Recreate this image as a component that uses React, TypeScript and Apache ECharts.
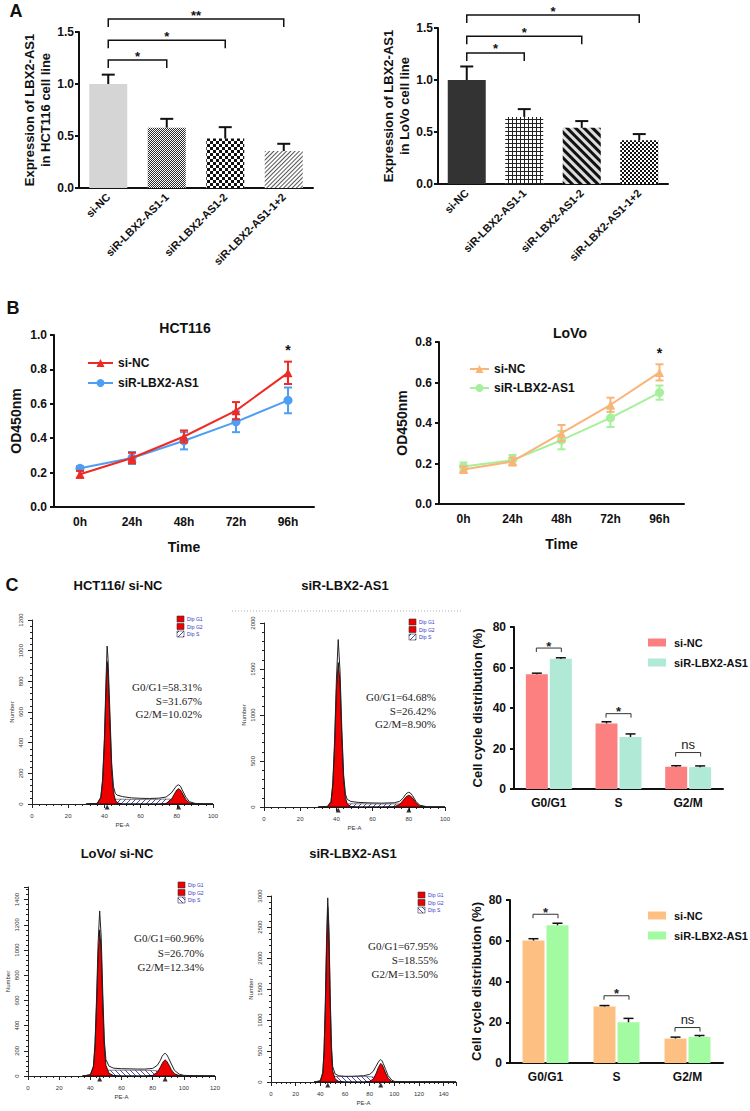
import React, { useEffect, useRef } from 'react';
import * as echarts from 'echarts';

const FF = 'Arial, "Liberation Sans", Helvetica, sans-serif';
const SERIF = '"Liberation Serif", "DejaVu Serif", serif';
const BLK = '#111111';

// ---------------- Panel A ----------------
const aCategories = ['si-NC', 'siR-LBX2-AS1-1', 'siR-LBX2-AS1-2', 'siR-LBX2-AS1-1+2'];
const aHctMean = [1.0, 0.58, 0.475, 0.355];
const aHctErr = [0.09, 0.085, 0.11, 0.07];
const aLovoMean = [1.0, 0.645, 0.54, 0.42];
const aLovoErr = [0.13, 0.075, 0.065, 0.06];
const aSigTo = [1, 2, 3];
const aHctSigY = [1.23, 1.42, 1.625];
const aHctSigLabel = ['*', '*', '**'];
const aLovoSigY = [1.26, 1.42, 1.625];
const aLovoSigLabel = ['*', '*', '*'];

// ---------------- Panel B ----------------
const timeCats = ['0h', '24h', '48h', '72h', '96h'];
const bHctNc = [0.19, 0.285, 0.41, 0.56, 0.78];
const bHctNcErr = [0.02, 0.03, 0.035, 0.05, 0.065];
const bHctSi = [0.225, 0.285, 0.385, 0.495, 0.62];
const bHctSiErr = [0.012, 0.035, 0.05, 0.06, 0.075];
const bLovoNc = [0.17, 0.21, 0.35, 0.49, 0.65];
const bLovoNcErr = [0.015, 0.02, 0.04, 0.035, 0.04];
const bLovoSi = [0.185, 0.217, 0.315, 0.425, 0.55];
const bLovoSiErr = [0.02, 0.025, 0.045, 0.045, 0.035];
const bHctStar = [[4, 0.915]];
const bLovoStar = [[4, 0.745]];

// ---------------- Panel C bars ----------------
const cCats = ['G0/G1', 'S', 'G2/M'];
const cHctNc = [56.7, 32.4, 11.0];
const cHctNcErr = [0.5, 0.8, 0.5];
const cHctSi = [64.3, 25.7, 10.8];
const cHctSiErr = [0.5, 1.5, 0.6];
const cLovoNc = [60.1, 27.7, 12.0];
const cLovoNcErr = [0.9, 0.5, 0.7];
const cLovoSi = [67.6, 20.0, 12.8];
const cLovoSiErr = [1.0, 1.9, 0.7];
const cHctSigY = [69.6, 37.2, 18.0];
const cLovoSigY = [73.0, 33.0, 17.4];
const cSigLabel = ['*', '*', 'ns'];

// ---------------- Panel C flow histograms ----------------
const fPe1 = [30, 36, 38, 39, 40, 41, 41.5, 42, 43, 44, 45, 46, 47, 50, 55, 60, 65, 70, 74, 77, 79, 80, 81, 82, 83, 85, 87, 90, 95, 100];
const fTot1 = [0, 4, 45, 160, 430, 850, 1030, 950, 610, 270, 115, 70, 58, 48, 40, 37, 36, 38, 45, 72, 105, 120, 125, 116, 92, 45, 15, 4, 1, 0];
const fG1a = [0, 3, 38, 145, 395, 790, 930, 870, 550, 230, 80, 28, 8, 0, 0, 0, 0, 0, 0, 0, 0, 0, 0, 0, 0, 0, 0, 0, 0, 0];
const fG2a = [0, 0, 0, 0, 0, 0, 0, 0, 0, 0, 0, 0, 0, 0, 0, 0, 0, 0, 3, 30, 72, 92, 100, 92, 72, 28, 8, 1, 0, 0];
const fSa = [0, 0, 6, 12, 18, 23, 25, 27, 29, 30, 31, 31, 31, 31, 30, 30, 30, 31, 32, 31, 28, 25, 21, 16, 12, 5, 1, 0, 0, 0];
const fMark1 = [41.5, 81];
const fText1 = ['G0/G1=58.31%', 'S=31.67%', 'G2/M=10.02%'];

const fPe2 = [30, 35, 37, 38, 39, 40, 41, 42, 43, 44, 45, 46, 48, 52, 58, 65, 72, 75, 77, 78, 79, 80, 81, 82, 84, 86, 90, 95, 100];
const fTot2 = [0, 5, 60, 260, 720, 1380, 1820, 1480, 840, 350, 140, 82, 60, 50, 45, 42, 46, 62, 100, 132, 152, 160, 150, 125, 60, 20, 3, 1, 0];
const fG1b = [0, 3, 50, 225, 650, 1270, 1570, 1360, 770, 300, 100, 35, 5, 0, 0, 0, 0, 0, 0, 0, 0, 0, 0, 0, 0, 0, 0, 0, 0];
const fG2b = [0, 0, 0, 0, 0, 0, 0, 0, 0, 0, 0, 0, 0, 0, 0, 0, 3, 30, 75, 100, 118, 128, 118, 100, 45, 12, 0, 0, 0];
const fSb = [0, 0, 8, 15, 22, 27, 30, 32, 33, 34, 35, 35, 35, 35, 34, 33, 34, 33, 30, 27, 23, 20, 16, 12, 6, 2, 0, 0, 0];
const fMark2 = [41, 80];
const fText2 = ['G0/G1=64.68%', 'S=26.42%', 'G2/M=8.90%'];

const fPe3 = [35, 40, 42, 43, 44, 45, 46, 47, 48, 49, 50, 52, 55, 60, 65, 70, 75, 80, 83, 85, 86, 87, 88, 89, 90, 92, 94, 97, 100, 110, 120];
const fTot3 = [0, 10, 80, 260, 620, 1060, 1310, 1100, 650, 280, 130, 78, 62, 58, 57, 55, 55, 60, 85, 125, 155, 172, 180, 170, 148, 95, 45, 15, 5, 1, 0];
const fG1c = [0, 8, 70, 230, 560, 970, 1160, 990, 570, 230, 85, 22, 3, 0, 0, 0, 0, 0, 0, 0, 0, 0, 0, 0, 0, 0, 0, 0, 0, 0, 0];
const fG2c = [0, 0, 0, 0, 0, 0, 0, 0, 0, 0, 0, 0, 0, 0, 0, 0, 0, 5, 30, 72, 98, 118, 128, 118, 98, 50, 18, 3, 0, 0, 0];
const fSc = [0, 8, 20, 28, 34, 38, 41, 43, 44, 45, 46, 46, 46, 46, 46, 45, 45, 44, 40, 35, 30, 26, 22, 18, 14, 8, 3, 0, 0, 0, 0];
const fMark3 = [46, 88];
const fText3 = ['G0/G1=60.96%', 'S=26.70%', 'G2/M=12.34%'];

const fPe4 = [35, 40, 42, 43, 44, 45, 46, 47, 48, 49, 50, 52, 55, 60, 65, 70, 75, 80, 83, 85, 87, 88, 89, 90, 91, 93, 95, 98, 100, 110, 150];
const fTot4 = [0, 20, 160, 520, 1250, 2250, 2970, 2480, 1400, 600, 250, 130, 100, 92, 92, 96, 102, 122, 175, 250, 320, 350, 362, 342, 300, 200, 100, 30, 10, 2, 0];
const fG1d = [0, 15, 140, 470, 1150, 2100, 2830, 2350, 1300, 520, 180, 50, 8, 0, 0, 0, 0, 0, 0, 0, 0, 0, 0, 0, 0, 0, 0, 0, 0, 0, 0];
const fG2d = [0, 0, 0, 0, 0, 0, 0, 0, 0, 0, 0, 0, 0, 0, 0, 0, 0, 10, 50, 130, 230, 270, 300, 280, 240, 140, 60, 10, 2, 0, 0];
const fSd = [0, 15, 40, 55, 65, 72, 78, 82, 84, 86, 88, 88, 88, 88, 88, 88, 88, 85, 80, 72, 62, 55, 48, 40, 32, 20, 8, 1, 0, 0, 0];
const fMark4 = [46, 89];
const fText4 = ['G0/G1=67.95%', 'S=18.55%', 'G2/M=13.50%'];

// ---------------- helpers ----------------
const pairs = (xs: number[], ys: number[]) => xs.map((x, i) => [x, ys[i]]);

function makeHatch(dir: number) {
  const c = document.createElement('canvas');
  c.width = 5;
  c.height = 5;
  const g = c.getContext('2d') as CanvasRenderingContext2D;
  g.fillStyle = '#ffffff';
  g.fillRect(0, 0, 5, 5);
  g.strokeStyle = '#4646c8';
  g.lineWidth = 1;
  const seg = (x1: number, y1: number, x2: number, y2: number) => {
    g.beginPath();
    g.moveTo(x1, y1);
    g.lineTo(x2, y2);
    g.stroke();
  };
  if (dir > 0) {
    seg(-1, 6, 6, -1);
  } else {
    seg(-1, -1, 6, 6);
  }
  return { image: c.toDataURL(), repeat: 'repeat', imageWidth: 5, imageHeight: 5 };
}

const txtStyle = (text: string, x: number, y: number, font: string, align = 'center', valign = 'middle', fill = BLK) => ({
  text, x, y, font, fill,
  align, verticalAlign: valign, textAlign: align, textVerticalAlign: valign,
});

const errorBars = (offset: number, capW: number, color: string, lw: number, both: boolean) =>
  (params: any, api: any) => {
    const c = api.value(0);
    const m = api.value(1);
    const e = api.value(2);
    const pm = api.coord([c, m]);
    const ph = api.coord([c, m + e]);
    const pl = api.coord([c, m - e]);
    const x = pm[0] + offset;
    const st = { stroke: color, lineWidth: lw };
    const ch: any[] = [
      { type: 'line', shape: { x1: x, y1: both ? pl[1] : pm[1], x2: x, y2: ph[1] }, style: st },
      { type: 'line', shape: { x1: x - capW / 2, y1: ph[1], x2: x + capW / 2, y2: ph[1] }, style: st },
    ];
    if (both) ch.push({ type: 'line', shape: { x1: x - capW / 2, y1: pl[1], x2: x + capW / 2, y2: pl[1] }, style: st });
    return { type: 'group', children: ch };
  };

const bracketA = (labels: string[]) => (params: any, api: any) => {
  const y = api.value(2);
  const s = api.coord([api.value(0), y]);
  const e = api.coord([api.value(1), y]);
  const drop = 8;
  return {
    type: 'group',
    children: [
      { type: 'polyline', shape: { points: [[s[0], s[1] + drop], [s[0], s[1]], [e[0], e[1]], [e[0], e[1] + drop]] }, style: { stroke: BLK, lineWidth: 1.5, fill: 'none' } },
      { type: 'text', style: txtStyle(labels[params.dataIndex], (s[0] + e[0]) / 2, s[1] - 4, 'bold 13px ' + FF) },
    ],
  };
};

const bracketC = (labels: string[]) => (params: any, api: any) => {
  const p = api.coord([api.value(0), api.value(1)]);
  const x1 = p[0] - 12.5;
  const x2 = p[0] + 12.5;
  const lab = labels[params.dataIndex];
  return {
    type: 'group',
    children: [
      { type: 'polyline', shape: { points: [[x1, p[1] + 4], [x1, p[1]], [x2, p[1]], [x2, p[1] + 4]] }, style: { stroke: '#333', lineWidth: 1, fill: 'none' } },
      { type: 'text', style: txtStyle(lab, p[0], lab === 'ns' ? p[1] - 8 : p[1] - 2, (lab === 'ns' ? '' : 'bold ') + '13px ' + FF, 'center', 'middle', '#222') },
    ],
  };
};

const starRender = (params: any, api: any) => {
  const p = api.coord([api.value(0), api.value(1)]);
  return { type: 'text', style: txtStyle('*', p[0], p[1], 'bold 14px ' + FF) };
};

// ---------------- axis factories ----------------
function catAxis(grid: number, data: string[], extra: any = {}) {
  return {
    type: 'category', gridIndex: grid, data,
    axisLine: { lineStyle: { color: BLK, width: 2 } },
    axisTick: { alignWithLabel: true, length: 4, lineStyle: { color: BLK, width: 2 } },
    axisLabel: { color: BLK, fontWeight: 'bold', fontSize: 12, fontFamily: FF, interval: 0, margin: 9, ...(extra.axisLabel || {}) },
    name: extra.name, nameLocation: 'middle', nameGap: extra.nameGap,
    nameTextStyle: { color: BLK, fontWeight: 'bold', fontSize: 14, fontFamily: FF },
  };
}

function valAxis(grid: number, max: number, interval: number, decimals: number, name: string, nameGap: number, margin: number, nameSize = 13) {
  return {
    type: 'value', gridIndex: grid, min: 0, max, interval,
    axisLine: { show: true, lineStyle: { color: BLK, width: 2 } },
    axisTick: { show: true, length: 4, lineStyle: { color: BLK, width: 2 } },
    splitLine: { show: false },
    axisLabel: { color: BLK, fontWeight: 'bold', fontSize: 12, fontFamily: FF, margin, formatter: (v: number) => v.toFixed(decimals) },
    name, nameLocation: 'middle', nameGap, nameRotate: 90,
    nameTextStyle: { color: BLK, fontWeight: 'bold', fontSize: nameSize, lineHeight: 16, fontFamily: FF },
  };
}

function flowX(grid: number, max: number) {
  return {
    type: 'value', gridIndex: grid, min: 0, max, interval: 20,
    axisLine: { onZero: false, lineStyle: { color: '#222', width: 1 } },
    axisTick: { length: 4, lineStyle: { color: '#222', width: 1 } },
    minorTick: { show: true, splitNumber: 5, length: 2, lineStyle: { color: '#222', width: 1 } },
    splitLine: { show: false }, minorSplitLine: { show: false },
    axisLabel: { fontSize: 6, color: '#333', margin: 9, formatter: (v: number) => (v % 20 === 0 ? String(v) : '') },
    name: 'PE-A', nameLocation: 'middle', nameGap: 18, nameTextStyle: { fontSize: 6, color: '#333' },
  };
}

function flowY(grid: number, max: number, interval: number) {
  return {
    type: 'value', gridIndex: grid, min: 0, max, interval,
    axisLine: { show: true, onZero: false, lineStyle: { color: '#222', width: 1 } },
    axisTick: { show: true, length: 4, lineStyle: { color: '#222', width: 1 } },
    minorTick: { show: true, splitNumber: 5, length: 2, lineStyle: { color: '#222', width: 1 } },
    splitLine: { show: false }, minorSplitLine: { show: false },
    axisLabel: { fontSize: 6, color: '#333', margin: 8, rotate: 90, formatter: (v: number) => (v % interval === 0 ? String(v) : '') },
    name: 'Number', nameLocation: 'middle', nameGap: 17, nameRotate: 90, nameTextStyle: { fontSize: 6, color: '#333' },
  };
}

function flowSeries(ax: number, pe: number[], tot: number[], g1: number[], g2: number[], s: number[], marks: number[], hatch: any) {
  const common = { type: 'line', xAxisIndex: ax, yAxisIndex: ax, showSymbol: false, symbol: 'none', silent: true };
  return [
    { ...common, name: 'S' + ax, data: pairs(pe, s), lineStyle: { color: '#333', width: 0.6 }, areaStyle: { color: hatch, opacity: 1 }, z: 2 },
    { ...common, name: 'G1' + ax, data: pairs(pe, g1), lineStyle: { color: '#000', width: 0.8 }, areaStyle: { color: '#ee0000', opacity: 1 }, z: 3 },
    { ...common, name: 'G2' + ax, data: pairs(pe, g2), lineStyle: { color: '#000', width: 0.8 }, areaStyle: { color: '#ee0000', opacity: 1 }, z: 3 },
    { ...common, name: 'T' + ax, data: pairs(pe, tot), lineStyle: { color: '#222', width: 1 }, z: 4 },
    {
      type: 'scatter', xAxisIndex: ax, yAxisIndex: ax, silent: true, clip: false, symbol: 'triangle', symbolSize: 5,
      symbolOffset: [0, 3], itemStyle: { color: '#000' }, data: marks.map((m) => [m, 0]), z: 5,
    },
  ];
}

// ---------------- bar styles for panel A ----------------
const aHctStyles = [
  { color: '#d5d5d5' },
  { color: '#ffffff', decal: { symbol: 'rect', symbolSize: 1, color: '#2a2a2a', backgroundColor: '#ffffff', dashArrayX: [[1, 1], [0, 1, 1, 0]], dashArrayY: [1, 0] } },
  { color: '#ffffff', decal: { symbol: 'rect', symbolSize: 1, color: '#111111', backgroundColor: '#ffffff', dashArrayX: [[3, 3], [0, 3, 3, 0]], dashArrayY: [3, 0] } },
  { color: '#ffffff', decal: { symbol: 'rect', symbolSize: 1, color: '#555555', backgroundColor: '#ffffff', dashArrayX: [1, 0], dashArrayY: [1, 2], rotation: -Math.PI / 4 } },
];
const aLovoStyles = [
  { color: '#333333' },
  { color: '#ffffff', decal: { symbol: 'rect', symbolSize: 1, color: '#222222', backgroundColor: '#ffffff', dashArrayX: [[4, 0], [1, 3], [1, 3], [1, 3]], dashArrayY: [1, 0] } },
  { color: '#dddddd', decal: { symbol: 'rect', symbolSize: 1, color: '#111111', backgroundColor: '#dddddd', dashArrayX: [1, 0], dashArrayY: [3, 3], rotation: Math.PI / 4 } },
  { color: '#ffffff', decal: { symbol: 'rect', symbolSize: 1, color: '#111111', backgroundColor: '#ffffff', dashArrayX: [[2, 2], [0, 2, 2, 0]], dashArrayY: [2, 0] } },
];

function buildOption() {
  const hatchUp = makeHatch(1);
  const hatchDown = makeHatch(-1);

  const COL = {
    hNc: '#ee2a24', hSi: '#4e9ef3', lNc: '#fbb478', lSi: '#a6f09c',
    cHNc: '#fd8081', cHSi: '#b0e9d5', cLNc: '#fec082', cLSi: '#a2fba0',
  };

  const graphicEls: any[] = [];
  const addText = (t: string, x: number, y: number, font: string, align = 'center', fill = BLK) =>
    graphicEls.push({ type: 'text', silent: true, style: txtStyle(t, x, y, font, align, 'middle', fill) });

  addText('A', 16, 11, 'bold 18px ' + FF);
  addText('B', 13, 308, 'bold 18px ' + FF);
  addText('C', 12, 585, 'bold 18px ' + FF);
  addText('HCT116', 185, 328, 'bold 14px ' + FF);
  addText('LoVo', 570, 333, 'bold 14px ' + FF);
  addText('HCT116/ si-NC', 118, 585, 'bold 13px ' + FF);
  addText('siR-LBX2-AS1', 345, 585, 'bold 13px ' + FF);
  addText('LoVo/ si-NC', 117, 853, 'bold 13px ' + FF);
  addText('siR-LBX2-AS1', 353, 853, 'bold 13px ' + FF);

  graphicEls.push({ type: 'line', silent: true, shape: { x1: 232, y1: 611, x2: 462, y2: 611 }, style: { stroke: '#b0b0b0', lineWidth: 1, lineDash: [1, 2] } });

  const flowLegend = (x: number, y: number, hatch: any) => {
    const labels = ['Dip G1', 'Dip G2', 'Dip S'];
    labels.forEach((lab, i) => {
      const yy = y + i * 7.5;
      graphicEls.push({
        type: 'rect', silent: true, shape: { x, y: yy, width: 7, height: 6 },
        style: { fill: i < 2 ? '#ee0000' : hatch, stroke: '#333', lineWidth: 0.6 },
      });
      addText(lab, x + 10, yy + 3, '5px ' + FF, 'left', '#3535c8');
    });
  };
  flowLegend(177, 616, hatchUp);
  flowLegend(409, 619, hatchUp);
  flowLegend(178, 882, hatchDown);
  flowLegend(418, 892, hatchDown);

  const flowText = (lines: string[], x: number, y0: number, dy: number) => {
    lines.forEach((t, i) => addText(t, x, y0 + i * dy, '11px ' + SERIF, 'right', '#222'));
  };
  flowText(fText1, 202, 687, 13.5);
  flowText(fText2, 436, 697, 13.5);
  flowText(fText3, 204, 938, 14.5);
  flowText(fText4, 438, 946, 14);

  const custom = (ax: number, data: any[], renderItem: any, z = 10) => ({
    type: 'custom', xAxisIndex: ax, yAxisIndex: ax, data, renderItem, silent: true, z,
    encode: { x: 0, y: 1 },
  });

  const series: any[] = [
    // ---- B (line charts) first so legends pick them ----
    { type: 'line', name: 'si-NC#B1', xAxisIndex: 2, yAxisIndex: 2, data: bHctNc, symbol: 'triangle', symbolSize: 9, showSymbol: true, itemStyle: { color: COL.hNc }, lineStyle: { color: COL.hNc, width: 2 }, z: 4 },
    { type: 'line', name: 'siR-LBX2-AS1#B1', xAxisIndex: 2, yAxisIndex: 2, data: bHctSi, symbol: 'circle', symbolSize: 9, showSymbol: true, itemStyle: { color: COL.hSi }, lineStyle: { color: COL.hSi, width: 2 }, z: 3 },
    custom(2, bHctNc.map((m, i) => [i, m, bHctNcErr[i]]), errorBars(0, 8, COL.hNc, 2, true), 5),
    custom(2, bHctSi.map((m, i) => [i, m, bHctSiErr[i]]), errorBars(0, 8, COL.hSi, 2, true), 4),
    custom(2, bHctStar, starRender),
    { type: 'line', name: 'si-NC#B2', xAxisIndex: 3, yAxisIndex: 3, data: bLovoNc, symbol: 'triangle', symbolSize: 9, showSymbol: true, itemStyle: { color: COL.lNc }, lineStyle: { color: COL.lNc, width: 2 }, z: 4 },
    { type: 'line', name: 'siR-LBX2-AS1#B2', xAxisIndex: 3, yAxisIndex: 3, data: bLovoSi, symbol: 'circle', symbolSize: 9, showSymbol: true, itemStyle: { color: COL.lSi }, lineStyle: { color: COL.lSi, width: 2 }, z: 3 },
    custom(3, bLovoNc.map((m, i) => [i, m, bLovoNcErr[i]]), errorBars(0, 8, COL.lNc, 2, true), 5),
    custom(3, bLovoSi.map((m, i) => [i, m, bLovoSiErr[i]]), errorBars(0, 8, COL.lSi, 2, true), 4),
    custom(3, bLovoStar, starRender),

    // ---- A (bars) ----
    { type: 'bar', name: 'A-HCT116', xAxisIndex: 0, yAxisIndex: 0, barWidth: 38, data: aHctMean.map((v, i) => ({ value: v, itemStyle: aHctStyles[i] })) },
    custom(0, aHctMean.map((m, i) => [i, m, aHctErr[i]]), errorBars(0, 13, BLK, 2, false)),
    { ...custom(0, aSigTo.map((to, i) => [0, to, aHctSigY[i]]), bracketA(aHctSigLabel)), encode: { x: [0, 1], y: 2 } },
    { type: 'bar', name: 'A-LoVo', xAxisIndex: 1, yAxisIndex: 1, barWidth: 38, data: aLovoMean.map((v, i) => ({ value: v, itemStyle: aLovoStyles[i] })) },
    custom(1, aLovoMean.map((m, i) => [i, m, aLovoErr[i]]), errorBars(0, 13, BLK, 2, false)),
    { ...custom(1, aSigTo.map((to, i) => [0, to, aLovoSigY[i]]), bracketA(aLovoSigLabel)), encode: { x: [0, 1], y: 2 } },

    // ---- flow histograms ----
    ...flowSeries(4, fPe1, fTot1, fG1a, fG2a, fSa, fMark1, hatchUp),
    ...flowSeries(5, fPe2, fTot2, fG1b, fG2b, fSb, fMark2, hatchUp),
    ...flowSeries(6, fPe3, fTot3, fG1c, fG2c, fSc, fMark3, hatchDown),
    ...flowSeries(7, fPe4, fTot4, fG1d, fG2d, fSd, fMark4, hatchDown),

    // ---- C bars ----
    { type: 'bar', name: 'si-NC#C1', xAxisIndex: 8, yAxisIndex: 8, barWidth: 22, barGap: '9%', data: cHctNc, itemStyle: { color: COL.cHNc } },
    { type: 'bar', name: 'siR-LBX2-AS1#C1', xAxisIndex: 8, yAxisIndex: 8, barWidth: 22, barGap: '9%', data: cHctSi, itemStyle: { color: COL.cHSi } },
    custom(8, cHctNc.map((m, i) => [i, m, cHctNcErr[i]]), errorBars(-12, 10, BLK, 1.5, false)),
    custom(8, cHctSi.map((m, i) => [i, m, cHctSiErr[i]]), errorBars(12, 10, BLK, 1.5, false)),
    custom(8, cHctSigY.map((y, i) => [i, y]), bracketC(cSigLabel)),
    { type: 'bar', name: 'si-NC#C2', xAxisIndex: 9, yAxisIndex: 9, barWidth: 22, barGap: '9%', data: cLovoNc, itemStyle: { color: COL.cLNc } },
    { type: 'bar', name: 'siR-LBX2-AS1#C2', xAxisIndex: 9, yAxisIndex: 9, barWidth: 22, barGap: '9%', data: cLovoSi, itemStyle: { color: COL.cLSi } },
    custom(9, cLovoNc.map((m, i) => [i, m, cLovoNcErr[i]]), errorBars(-12, 10, BLK, 1.5, false)),
    custom(9, cLovoSi.map((m, i) => [i, m, cLovoSiErr[i]]), errorBars(12, 10, BLK, 1.5, false)),
    custom(9, cLovoSigY.map((y, i) => [i, y]), bracketC(cSigLabel)),
  ];

  const legendText = { fontSize: 12, fontWeight: 'bold', color: BLK, fontFamily: FF };
  const legendTextC = { fontSize: 11, fontWeight: 'bold', color: BLK, fontFamily: FF, padding: [0, 0, 0, 3] };
  const fmt = (n: string) => n.split('#')[0];

  return {
    animation: false,
    backgroundColor: '#ffffff',
    textStyle: { fontFamily: FF },
    grid: [
      { left: 79, top: 32, width: 234, height: 156 },
      { left: 438, top: 28, width: 230, height: 156 },
      { left: 54, top: 335, width: 260, height: 172 },
      { left: 439, top: 342, width: 245, height: 162 },
      { left: 32, top: 620, width: 181, height: 184 },
      { left: 264, top: 623, width: 181, height: 184 },
      { left: 28, top: 887, width: 187, height: 189 },
      { left: 271, top: 896, width: 185, height: 186 },
      { left: 514, top: 627, width: 209, height: 162 },
      { left: 510, top: 900, width: 213, height: 163 },
    ],
    xAxis: [
      catAxis(0, aCategories, { axisLabel: { rotate: 45, fontSize: 11, margin: 7 } }),
      catAxis(1, aCategories, { axisLabel: { rotate: 45, fontSize: 11, margin: 7 } }),
      catAxis(2, timeCats, { name: 'Time', nameGap: 33 }),
      catAxis(3, timeCats, { name: 'Time', nameGap: 33 }),
      flowX(4, 100),
      flowX(5, 100),
      flowX(6, 120),
      flowX(7, 150),
      catAxis(8, cCats, { axisLabel: { margin: 8 } }),
      catAxis(9, cCats, { axisLabel: { margin: 8 } }),
    ],
    yAxis: [
      valAxis(0, 1.5, 0.5, 1, 'Expression of LBX2-AS1\nin HCT116 cell line', 24, 5),
      valAxis(1, 1.5, 0.5, 1, 'Expression of LBX2-AS1\nin LoVo cell line', 24, 5),
      valAxis(2, 1.0, 0.2, 1, 'OD450nm', 30, 7, 14),
      valAxis(3, 0.8, 0.2, 1, 'OD450nm', 29, 7, 14),
      flowY(4, 1200, 200),
      flowY(5, 2000, 500),
      flowY(6, 1500, 200),
      flowY(7, 3000, 500),
      valAxis(8, 80, 20, 0, 'Cell cycle distribution (%)', 29, 8),
      valAxis(9, 80, 20, 0, 'Cell cycle distribution (%)', 24, 8),
    ],
    legend: [
      { left: 82, top: 352, orient: 'vertical', itemWidth: 25, itemHeight: 10, itemGap: 8, selectedMode: false, textStyle: legendText, formatter: fmt, data: ['si-NC#B1', 'siR-LBX2-AS1#B1'] },
      { left: 464, top: 358, orient: 'vertical', itemWidth: 19, itemHeight: 10, itemGap: 7, selectedMode: false, textStyle: legendText, formatter: fmt, data: ['si-NC#B2', 'siR-LBX2-AS1#B2'] },
      { left: 643, top: 632, orient: 'vertical', icon: 'rect', itemWidth: 18, itemHeight: 8, itemGap: 9, selectedMode: false, textStyle: legendTextC, formatter: fmt, data: ['si-NC#C1', 'siR-LBX2-AS1#C1'] },
      { left: 643, top: 905, orient: 'vertical', icon: 'rect', itemWidth: 18, itemHeight: 8, itemGap: 9, selectedMode: false, textStyle: legendTextC, formatter: fmt, data: ['si-NC#C2', 'siR-LBX2-AS1#C2'] },
    ],
    graphic: { elements: graphicEls },
    series,
  };
}

export default function App() {
  const ref = useRef<HTMLDivElement>(null);
  useEffect(() => {
    if (!ref.current) return undefined;
    const chart = echarts.init(ref.current, null, { renderer: 'svg', width: 750, height: 1111 });
    chart.setOption(buildOption() as any);
    return () => {
      chart.dispose();
    };
  }, []);
  return (
    <div
      ref={ref}
      style={{ position: 'absolute', left: 0, top: 0, width: 750, height: 1111, background: '#ffffff' }}
    />
  );
}
